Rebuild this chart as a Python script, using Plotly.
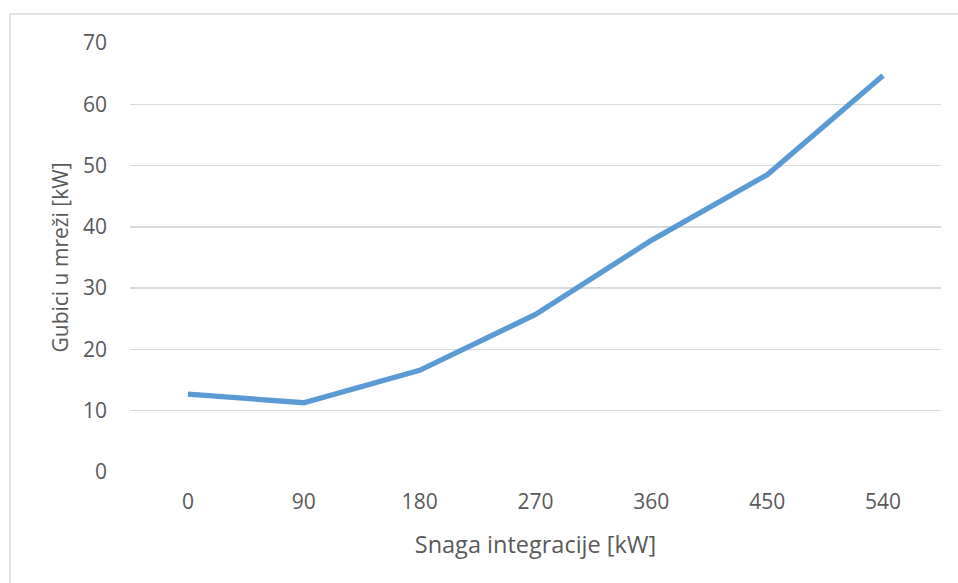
import plotly.graph_objects as go

categories = ["0", "90", "180", "270", "360", "450", "540"]
losses_kw = [12.7, 11.3, 16.6, 25.7, 37.8, 48.5, 64.7]
y_ticks = [0, 10, 20, 30, 40, 50, 60, 70]

W, H = 958, 583
ml, mt = 130, 43
mr = W - 941
mb = H - 472
pw, ph = W - ml - mr, H - mt - mb

fig = go.Figure()
fig.add_trace(go.Scatter(
    x=categories, y=losses_kw, mode="lines",
    line=dict(color="#5B9BD5", width=5.3),
    showlegend=False, hoverinfo="skip"))

txt = "#595959"
font = "Open Sans, sans-serif"

fig.update_layout(
    width=W, height=H,
    margin=dict(l=ml, r=mr, t=mt, b=mb),
    paper_bgcolor="white", plot_bgcolor="white",
    font=dict(family=font, color=txt, size=21),
    xaxis=dict(
        type="category", range=[-0.5, 6.5],
        showgrid=False, zeroline=False, showline=False,
        ticks="", tickfont=dict(size=21, color=txt),
        ticklabelstandoff=15,
        title=dict(text="Snaga integracije [kW]", font=dict(size=23.5, color=txt), standoff=22),
    ),
    yaxis=dict(
        range=[0, 70], tickvals=y_ticks,
        showgrid=True, gridcolor="#D9D9D9", gridwidth=1.4,
        zeroline=False, showline=False, ticks="",
        ticklabelstandoff=22,
        tickfont=dict(size=21, color=txt),
        title=dict(text="Gubici u mreži [kW]", font=dict(size=21, color=txt), standoff=8),
    ),
)

# outer chart border (left and top edges visible; right/bottom run off the image)
x_left = (10 - ml) / pw
y_top = (H - mb - 14) / ph
fig.add_shape(type="line", xref="paper", yref="paper",
              x0=x_left, x1=(W + 40 - ml) / pw, y0=y_top, y1=y_top,
              line=dict(color="#D9D9D9", width=1.5))
fig.add_shape(type="line", xref="paper", yref="paper",
              x0=x_left, x1=x_left, y0=y_top, y1=(-mb - 40) / ph,
              line=dict(color="#D9D9D9", width=1.5))

fig.write_html("out.html",
               config={"displayModeBar": False, "staticPlot": True},
               post_script="document.body.style.margin='0';document.body.style.overflow='hidden';")
